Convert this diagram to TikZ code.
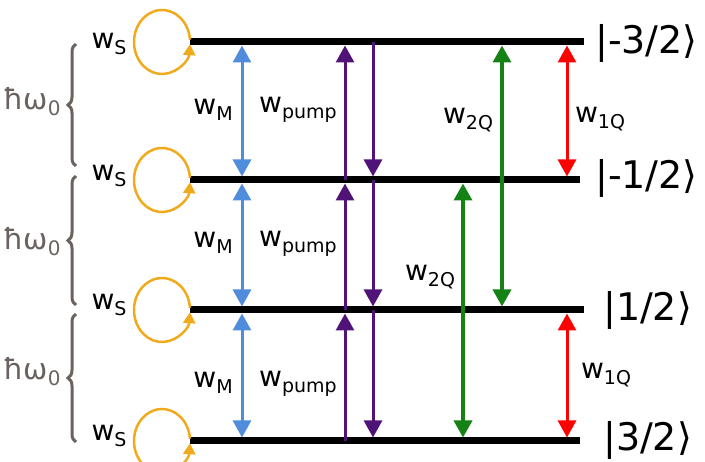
\documentclass[tikz,border=0pt]{standalone}
\usepackage{fontspec}
\setmainfont{DejaVu Sans}
\usetikzlibrary{arrows.meta,decorations.pathreplacing,calc}
\definecolor{loopc}{RGB}{240,170,30}
\definecolor{bluec}{RGB}{80,140,220}
\definecolor{purc}{RGB}{80,20,120}
\definecolor{greenc}{RGB}{20,130,20}
\definecolor{redc}{RGB}{255,0,0}
\definecolor{grayc}{RGB}{105,98,95}
\newcommand{\wsub}[1]{w\raisebox{-6pt}{\fontsize{19}{19}\selectfont #1}}
\newcommand{\hbw}{ħω\raisebox{-6pt}{\fontsize{20}{20}\selectfont 0}}
\tikzset{
  level/.style={line width=7pt},
  lbl/.style={font=\fontsize{28}{30}\selectfont, inner sep=0pt},
  ketlbl/.style={font=\fontsize{38}{42}\selectfont, inner sep=0pt, anchor=west},
  hlbl/.style={font=\fontsize{29}{32}\selectfont, text=grayc, inner sep=0pt},
  tri/.style={-{Triangle[width=18pt,length=17pt]}},
  both/.style={{Triangle[width=18pt,length=17pt]}-{Triangle[width=18pt,length=17pt]}},
  trans/.style={shorten <=3.5pt, shorten >=3.5pt},
  loopst/.style={draw=loopc, line width=2.5pt, -{Triangle[width=12pt,length=11pt]}},
  bracest/.style={draw=grayc, line width=3pt, decorate, decoration={brace, amplitude=8pt}}
}
\begin{document}
\begin{tikzpicture}[x=1pt,y=-1pt]
\useasboundingbox (0,0) rectangle (705,462);
% level coordinates
\foreach \c/\x in {m/242,pu/345,pd/373,ga/463,gb/502,r/567}
  \foreach \l/\y in {1/42,2/180,3/310,4/441}
    \coordinate (\c\l) at (\x,\y);
\coordinate (A1) at (190,42);  \coordinate (B1) at (584,42);
\coordinate (A2) at (190,180); \coordinate (B2) at (580,180);
\coordinate (A3) at (190,310); \coordinate (B3) at (584,310);
\coordinate (A4) at (190,441); \coordinate (B4) at (580,441);
\draw[level] (A1) -- (B1);
\draw[level] (A2) -- (B2);
\draw[level] (A3) -- (B3);
\draw[level] (A4) -- (B4);
% self loops
\foreach \l in {1,2,3,4}
  \draw[loopst] ($(A\l)+(-28,0)$) ++(-4:28 and 32) arc[start angle=-4, end angle=-356, x radius=28, y radius=32];
% blue
\draw[bluec, line width=3pt, both, trans] (m2) -- (m1);
\draw[bluec, line width=3pt, both, trans] (m3) -- (m2);
\draw[bluec, line width=3pt, both, trans] (m4) -- (m3);
% purple up
\draw[purc, line width=3pt, tri, shorten >=3.5pt] (pu4) -- (pu3);
\draw[purc, line width=3pt, tri, shorten >=3.5pt] (pu3) -- (pu2);
\draw[purc, line width=3pt, tri, shorten >=3.5pt] (pu2) -- (pu1);
% purple down
\draw[purc, line width=3pt, tri, shorten >=3.5pt] (pd1) -- (pd2);
\draw[purc, line width=3pt, tri, shorten >=3.5pt] (pd2) -- (pd3);
\draw[purc, line width=3pt, tri, shorten >=3.5pt] (pd3) -- (pd4);
% green
\draw[greenc, line width=3.5pt, both, trans] (ga4) -- (ga2);
\draw[greenc, line width=3.5pt, both, trans] (gb3) -- (gb1);
% red
\draw[redc, line width=3pt, both, trans] (r2) -- (r1);
\draw[redc, line width=3pt, both, trans] (r4) -- (r3);
% labels
\node[lbl] (ws1) at (109,44) {\wsub{S}};
\node[lbl] (ws2) at (109,176) {\wsub{S}};
\node[lbl] (ws3) at (109,305) {\wsub{S}};
\node[lbl] (ws4) at (109,436) {\wsub{S}};
\node[lbl] (wm1) at (213,110) {\wsub{M}};
\node[lbl] (wm2) at (213,243) {\wsub{M}};
\node[lbl] (wm3) at (213,383) {\wsub{M}};
\node[lbl] (wp1) at (298,110) {\wsub{pump}};
\node[lbl] (wp2) at (298,244) {\wsub{pump}};
\node[lbl] (wp3) at (298,384) {\wsub{pump}};
\node[lbl] (w2a) at (468,120) {\wsub{2Q}};
\node[lbl] (w2b) at (430,277) {\wsub{2Q}};
\node[lbl] (w1a) at (600,119) {\wsub{1Q}};
\node[lbl] (w1b) at (606,375) {\wsub{1Q}};
% kets
\node[ketlbl] (k1) at (595,43) {|-3/2⟩};
\node[ketlbl] (k2) at (595,178) {|-1/2⟩};
\node[ketlbl] (k3) at (603,310) {|1/2⟩};
\node[ketlbl] (k4) at (603,440) {|3/2⟩};
% braces
\coordinate (br1t) at (76,44);  \coordinate (br1b) at (76,166);
\coordinate (br2t) at (76,176); \coordinate (br2b) at (76,305);
\coordinate (br3t) at (76,314); \coordinate (br3b) at (76,442);
\draw[bracest] (br1b) -- (br1t);
\draw[bracest] (br2b) -- (br2t);
\draw[bracest] (br3b) -- (br3t);
\node[hlbl] (h1) at (32,102) {\hbw};
\node[hlbl] (h2) at (32,242) {\hbw};
\node[hlbl] (h3) at (32,372) {\hbw};
\end{tikzpicture}
\end{document}
